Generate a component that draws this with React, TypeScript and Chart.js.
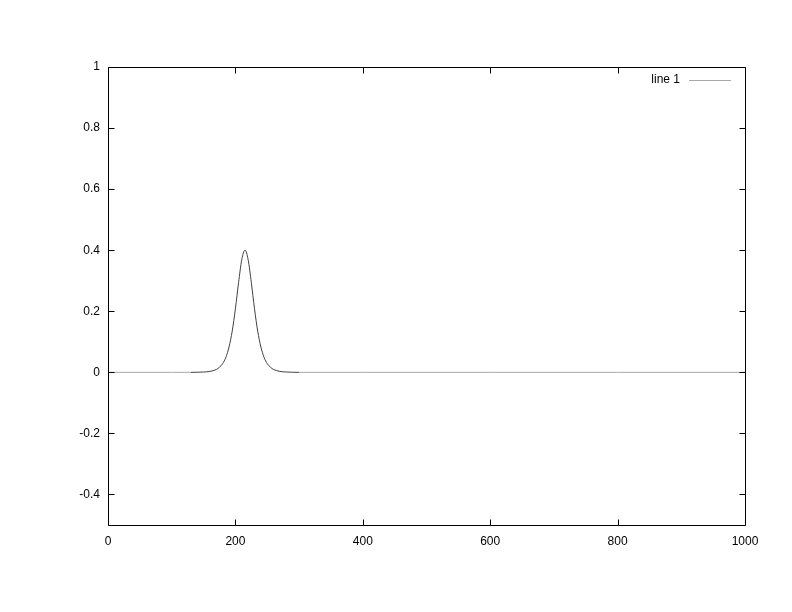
import React, { useEffect, useRef } from "react";
import { Chart, registerables } from "chart.js";

Chart.register(...registerables);

const xValues = [0, 100, 130, 140, 150, 160, 170, 175, 180, 185, 190, 195, 200, 205, 210, 215, 220, 225, 230, 235, 240, 245, 250, 255, 260, 270, 280, 290, 300, 400, 600, 800, 1000];
const yValues = [0, 0, 0, 0.0003, 0.001, 0.003, 0.0093, 0.0167, 0.0285, 0.049, 0.083, 0.135, 0.208, 0.294, 0.369, 0.4, 0.369, 0.294, 0.208, 0.135, 0.083, 0.049, 0.0285, 0.0167, 0.0093, 0.003, 0.001, 0.0003, 0, 0, 0, 0, 0];

const xTicks = [0, 200, 400, 600, 800, 1000];
const xTickLabels = ["0", "200", "400", "600", "800", "1000"];
const yTicks = [-0.4, -0.2, 0, 0.2, 0.4, 0.6, 0.8, 1];
const yTickLabels = ["-0.4", "-0.2", "0", "0.2", "0.4", "0.6", "0.8", "1"];
const seriesLabel = "line 1";

const FONT_FAMILY = '"Liberation Sans", Arial, sans-serif';
const GRAY = "#a8a8a8";
const DARK = "#404040";

const framePlugin = {
  id: "gnuFrame",
  afterDraw(chart: any) {
    const { ctx, chartArea: a, scales } = chart;
    const xs = scales.x;
    const ys = scales.y;
    ctx.save();
    ctx.strokeStyle = "#000";
    ctx.lineWidth = 1;
    const L = Math.round(a.left) + 0.5;
    const R = Math.round(a.right) + 0.5;
    const T = Math.round(a.top) + 0.5;
    const B = Math.round(a.bottom) + 0.5;
    ctx.beginPath();
    ctx.rect(L, T, R - L, B - T);
    const tl = 6;
    xTicks.forEach((v) => {
      const px = Math.round(xs.getPixelForValue(v)) + 0.5;
      ctx.moveTo(px, B);
      ctx.lineTo(px, B - tl);
      ctx.moveTo(px, T);
      ctx.lineTo(px, T + tl);
    });
    yTicks.forEach((v) => {
      const py = Math.round(ys.getPixelForValue(v)) + 0.5;
      ctx.moveTo(L, py);
      ctx.lineTo(L + tl, py);
      ctx.moveTo(R, py);
      ctx.lineTo(R - tl, py);
    });
    ctx.stroke();

    // legend
    const ds = chart.data.datasets[0];
    ctx.font = "12px " + FONT_FAMILY;
    ctx.fillStyle = "#000";
    ctx.textAlign = "right";
    ctx.textBaseline = "middle";
    ctx.fillText(ds.label, 680, 80);
    ctx.strokeStyle = GRAY;
    ctx.beginPath();
    ctx.moveTo(689, 80.5);
    ctx.lineTo(731, 80.5);
    ctx.stroke();
    ctx.restore();
  },
};

export default function App() {
  const ref = useRef<HTMLCanvasElement | null>(null);
  useEffect(() => {
    if (!ref.current) return;
    const data = xValues.map((x, i) => ({ x, y: yValues[i] }));
    const chart = new Chart(ref.current, {
      type: "line",
      data: {
        datasets: [
          {
            label: seriesLabel,
            data,
            borderColor: GRAY,
            borderWidth: 1,
            pointRadius: 0,
            fill: false,
            cubicInterpolationMode: "monotone",
            segment: {
              borderColor: (c: any) =>
                c.p0.parsed.y === 0 && c.p1.parsed.y === 0 ? GRAY : DARK,
            },
          } as any,
        ],
      },
      options: {
        animation: false,
        responsive: false,
        maintainAspectRatio: false,
        layout: { padding: { left: 0, top: 67, right: 47, bottom: 0 } },
        plugins: { legend: { display: false }, tooltip: { enabled: false } },
        scales: {
          x: {
            type: "linear",
            min: 0,
            max: 1000,
            grid: { display: false, drawTicks: false },
            border: { display: false },
            afterBuildTicks: (s: any) => {
              s.ticks = xTicks.map((v) => ({ value: v }));
            },
            afterFit: (s: any) => {
              s.height = 87;
            },
            ticks: {
              padding: 9,
              maxRotation: 0,
              autoSkip: false,
              color: "#000",
              font: { family: FONT_FAMILY, size: 12 },
              callback: (v: any) => xTickLabels[xTicks.indexOf(Number(v))] ?? "",
            },
          },
          y: {
            type: "linear",
            min: -0.5,
            max: 1,
            grid: { display: false, drawTicks: false },
            border: { display: false },
            afterBuildTicks: (s: any) => {
              s.ticks = yTicks.map((v) => ({ value: v }));
            },
            afterFit: (s: any) => {
              s.width = 108;
            },
            ticks: {
              padding: 8,
              autoSkip: false,
              color: "#000",
              font: { family: FONT_FAMILY, size: 12 },
              callback: (v: any) => {
                const i = yTicks.findIndex((t) => Math.abs(t - Number(v)) < 1e-9);
                return i >= 0 ? yTickLabels[i] : "";
              },
            },
          },
        },
      },
      plugins: [framePlugin],
    });
    return () => chart.destroy();
  }, []);
  return (
    <div style={{ position: "fixed", left: 0, top: 0, width: 792, height: 612, background: "#fff" }}>
      <canvas ref={ref} width={792} height={612} style={{ width: 792, height: 612, display: "block" }} />
    </div>
  );
}
